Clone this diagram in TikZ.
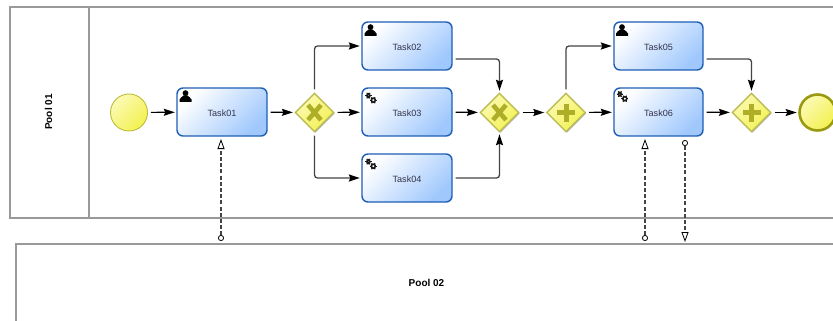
\documentclass[tikz,border=0pt]{standalone}
\usepackage{fontspec}
\setmainfont{Liberation Sans}
\usetikzlibrary{arrows.meta,shapes.geometric,shadows}
\definecolor{poolgray}{HTML}{999999}
\definecolor{taskedge}{HTML}{1F5FB5}
\definecolor{taskend}{HTML}{A0C8FD}
\definecolor{gateedge}{HTML}{BDBD55}
\definecolor{gatefill}{HTML}{F3F150}
\definecolor{gatelight}{HTML}{FBFAB4}
\definecolor{gatemark}{HTML}{AEAE28}
\definecolor{startedge}{HTML}{BDBD3A}
\definecolor{endedge}{HTML}{9A9A10}
\definecolor{flowdark}{HTML}{444444}
\definecolor{tasktext}{HTML}{33334A}
\tikzset{
  x=1pt,y=-1pt,
  pool/.style={draw=poolgray,line width=2pt},
  poollabel/.style={font=\bfseries\fontsize{10}{12}\selectfont,inner sep=0pt},
  task/.style={rectangle,rounded corners=6pt,draw=taskedge,line width=1.4pt,
    minimum width=90pt,minimum height=48pt,inner sep=0pt,
    top color=white,bottom color=taskend,shading angle=45,
    font=\fontsize{9.1}{11}\selectfont,text=tasktext,text height=9.6pt,text depth=0pt},
  gate/.style={diamond,aspect=1,minimum width=39pt,minimum height=39pt,inner sep=0pt,
    draw=gateedge,line width=1.4pt,top color=gatelight,bottom color=gatefill,shading angle=45,
    drop shadow={shadow xshift=1pt,shadow yshift=-1pt,opacity=.3,fill=black}},
  startev/.style={circle,minimum size=37pt,inner sep=0pt,draw=startedge,line width=.9pt,
    top color=gatelight,bottom color=gatefill,shading angle=45},
  endev/.style={circle,minimum size=36pt,inner sep=0pt,draw=endedge,line width=2.6pt,
    top color=gatelight,bottom color=gatefill,shading angle=45},
  flow/.style={draw=black,line width=1.2pt,-{Stealth[length=11pt,width=7pt,inset=1.5pt]},shorten <=3pt,shorten >=1.5pt},
  bentflow/.style={flow,draw=flowdark,line width=1.3pt,rounded corners=3pt,
    -{Stealth[length=11pt,width=7pt,inset=1.5pt,color=black]}},
  msgflow/.style={draw=flowdark,line width=1.5pt,dash pattern=on 4pt off 2.2pt,
    {Circle[open,length=6pt,width=6pt,fill=white,line width=.8pt,color=black,sep=0pt]}-{Triangle[open,length=10pt,width=7pt,fill=white,line width=.8pt,color=black]}},
  xmark/.style={draw=gatemark,line width=4.6pt},
  plusmark/.style={draw=gatemark,line width=5pt},
  userhead/.pic={
    \fill[black] (0,-3.4) circle (2.9);
    \fill[black] (-6,5.4) -- (-6,3) .. controls (-6,1) and (-3,1) .. (-1.8,-1) -- (1.8,-1)
      .. controls (3,1) and (6,1) .. (6,3) -- (6,5.4) -- cycle;
  },
  gears/.pic={
    \foreach \cx/\cy/\r in {-2.6/-2.4/1.7,2.3/2.2/2.0}{
      \draw[black!90,line width=1.6pt] (\cx,\cy) circle (\r);
      \foreach \a in {0,60,...,300}{
        \draw[black!90,line width=1.1pt] ([shift={(\a:\r)}]\cx,\cy) -- ([shift={(\a:\r+1.5)}]\cx,\cy);
      }
    }
  }
}
\begin{document}
\begin{tikzpicture}
\path[use as bounding box,clip] (0,0) rectangle (833,321);
\fill[white] (0,0) rectangle (833,321);

% pools
\draw[pool] (10,7.5) rectangle (850,218);
\draw[pool] (89,7.5) -- (89,218);
\draw[pool] (16,244) rectangle (850,340);
\node[poollabel,rotate=90] (pool1) at (48.5,112) {Pool 01};
\node[poollabel] (pool2) at (426.5,283) {Pool 02};

% events, tasks, gateways
\node[startev] (start) at (129,112.5) {};
\node[task] (t1) at (222,112) {Task01};
\node[task] (t2) at (407,46) {Task02};
\node[task] (t3) at (407,112) {Task03};
\node[task] (t4) at (407,178) {Task04};
\node[task,minimum width=89pt] (t5) at (658.5,46) {Task05};
\node[task,minimum width=89pt] (t6) at (658.5,112) {Task06};
\node[gate] (g1) at (314.5,112.5) {};
\node[gate] (g2) at (499.5,112.5) {};
\node[gate] (g3) at (566,112.5) {};
\node[gate] (g4) at (751.5,112.5) {};
\node[endev] (stop) at (817.5,112.5) {};

% gateway markers
\foreach \g in {g1,g2}{
  \draw[xmark] ([xshift=-6.5pt,yshift=7.5pt]\g.center) -- ([xshift=6.5pt,yshift=-7.5pt]\g.center);
  \draw[xmark] ([xshift=-6.5pt,yshift=-7.5pt]\g.center) -- ([xshift=6.5pt,yshift=7.5pt]\g.center);
}
\foreach \g in {g3,g4}{
  \draw[plusmark] ([xshift=-9pt]\g.center) -- ([xshift=9pt]\g.center);
  \draw[plusmark] ([yshift=-9pt]\g.center) -- ([yshift=9pt]\g.center);
}

% task icons
\pic at (185.5,96.5) {userhead};
\pic at (370.5,30.5) {userhead};
\pic at (622,30.5) {userhead};
\pic at (371,98) {gears};
\pic at (371,164) {gears};
\pic at (622.5,96.5) {gears};

% sequence flows
\draw[flow] (start) -- (t1);
\draw[flow] (t1) -- (g1);
\draw[flow] (g1) -- (t3);
\draw[flow] (t3) -- (g2);
\draw[flow] (g2) -- (g3);
\draw[flow] (g3) -- (t6);
\draw[flow] (t6) -- (g4);
\draw[flow] (g4) -- (stop);
\draw[bentflow] (g1) |- (t2);
\draw[bentflow] (g1) |- (t4);
\draw[bentflow] ([yshift=-13pt]t2.east) -| (g2);
\draw[bentflow] (t4) -| (g2);
\draw[bentflow] (g3) |- (t5);
\draw[bentflow] ([yshift=-13pt]t5.east) -| (g4);

% message flows
\coordinate (m1a) at (221,241);
\coordinate (m1b) at (221,139);
\coordinate (m2a) at (645,241);
\coordinate (m2b) at (645,139);
\coordinate (m3a) at (685,140);
\coordinate (m3b) at (685,242);
\draw[msgflow] (m1a) -- (m1b);
\draw[msgflow] (m2a) -- (m2b);
\draw[msgflow] (m3a) -- (m3b);
\end{tikzpicture}
\end{document}
